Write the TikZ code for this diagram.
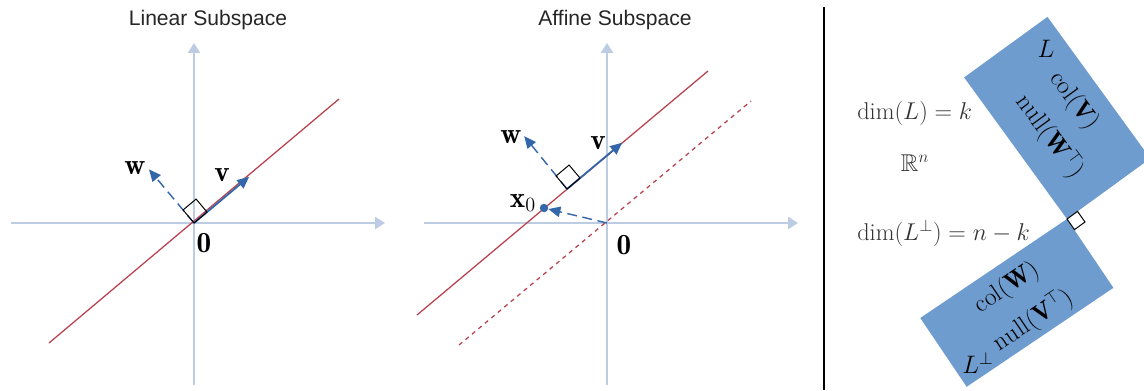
\RequirePackage{fix-cm}
\documentclass[tikz,border=0pt]{standalone}
\usepackage{amsmath,amssymb}
\usepackage{fontspec}
\newfontfamily\titlefont{Liberation Sans}
\usetikzlibrary{arrows.meta,calc}

\definecolor{axiscol}{RGB}{188,204,226}
\definecolor{linecol}{RGB}{184,66,78}
\definecolor{veccol}{RGB}{52,102,170}
\definecolor{boxcol}{RGB}{110,156,206}

\begin{document}
\begin{tikzpicture}[
    x=0.025cm, y=0.025cm,
    axis/.style={draw=axiscol, line width=1.4pt, -{Triangle[length=7pt,width=8.5pt]}},
    subsp/.style={draw=linecol, line width=0.9pt},
    shifted/.style={subsp, dash pattern=on 3pt off 3pt},
    vec/.style={draw=veccol, line width=1.3pt, -{Triangle[length=8.5pt,width=7.5pt]}},
    perpvec/.style={vec, line width=1pt, dash pattern=on 7pt off 4pt},
    rangle/.style={draw=black, line width=0.7pt},
    dot/.style={circle, fill=veccol, inner sep=0pt, minimum size=6pt},
    lbl/.style={font=\fontsize{17.28}{21}\selectfont, scale=1.2, inner sep=1pt},
    title/.style={font=\titlefont\fontsize{15}{18}\selectfont, text=black!85},
    dimlbl/.style={font=\fontsize{17.28}{21}\selectfont, text=black!80, inner sep=0pt},
    sep/.style={draw=black, line width=2.1pt},
    spacebox/.style={fill=boxcol, draw=none},
    boxlbl/.style={font=\fontsize{17.28}{21}\selectfont, scale=1.04, inner sep=0pt}
  ]
  \useasboundingbox (0,0) rectangle (1144,-390);

  % ---------- linear subspace ----------------------------------------------
  \node[title] (t1) at (208,-20) {Linear Subspace};
  \coordinate (o1) at (194,-223);
  \coordinate (h1a) at (11,-223);   \coordinate (h1b) at (385,-223);
  \coordinate (v1a) at (194,-385);  \coordinate (v1b) at (194,-43);
  \coordinate (l1a) at (49,-343);   \coordinate (l1b) at (339,-99);
  \coordinate (v1) at ($(o1)+(40:72)$);
  \coordinate (w1) at ($(o1)+(130:70)$);

  \draw[axis] (h1a) -- (h1b);
  \draw[axis] (v1a) -- (v1b);
  \draw[subsp] (l1a) -- (l1b);
  \draw[perpvec] (o1) -- (w1);
  \draw[vec] (o1) -- (v1);
  \draw[rangle] (o1) -- ++(40:17) -- ++(130:17) -- ++(220:17) -- cycle;

  \node[lbl] (w1l) at (135,-168) {$\mathbf{w}$};
  \node[lbl] (v1l) at (222,-175) {$\mathbf{v}$};
  \node[lbl] (z1l) at (204,-243) {$\mathbf{0}$};

  % ---------- affine subspace ----------------------------------------------
  \node[title] (t2) at (615,-20) {Affine Subspace};
  \coordinate (o2) at (607,-223);
  \coordinate (h2a) at (424,-223);  \coordinate (h2b) at (798,-223);
  \coordinate (v2a) at (607,-385);  \coordinate (v2b) at (607,-43);
  \coordinate (l2a) at (417,-315);  \coordinate (l2b) at (708,-71);
  \coordinate (d2a) at (459,-345);  \coordinate (d2b) at (751,-101);
  \coordinate (c2) at (567,-189);
  \coordinate (v2) at ($(c2)+(40:72)$);
  \coordinate (w2) at ($(c2)+(129:68)$);

  \draw[axis] (h2a) -- (h2b);
  \draw[axis] (v2a) -- (v2b);
  \draw[shifted] (d2a) -- (d2b);
  \draw[subsp] (l2a) -- (l2b);
  \node[dot] (x0) at (544,-208) {};
  \draw[perpvec] (o2) -- (x0);
  \draw[perpvec] (c2) -- (w2);
  \draw[vec] (c2) -- (v2);
  \draw[rangle] (c2) -- ++(40:17) -- ++(130:17) -- ++(220:17) -- cycle;

  \node[lbl] (w2l) at (511,-137) {$\mathbf{w}$};
  \node[lbl] (v2l) at (598,-143) {$\mathbf{v}$};
  \node[lbl] (x0l) at (523,-203) {$\mathbf{x}_0$};
  \node[lbl] (z2l) at (624,-245) {$\mathbf{0}$};

  % ---------- separator ----------------------------------------------------
  \coordinate (sa) at (824,-7);  \coordinate (sb) at (824,-390);
  \draw[sep] (sa) -- (sb);

  % ---------- L and its complement -----------------------------------------
  \node[dimlbl, anchor=west] (diml) at (857,-113) {$\dim(L) = k$};
  \node[dimlbl] (rn) at (915,-163) {$\mathbb{R}^n$};
  \node[dimlbl, anchor=west] (dimlp) at (857,-233) {$\dim(L^{\perp}) = n - k$};

  \coordinate (c3) at (1067,-219);
  \fill[spacebox] (c3) -- ++(126:175) -- ++(36:103) -- ++(306:175) -- cycle;
  \fill[spacebox] (c3) -- ++(214:177) -- ++(304:83) -- ++(34:177) -- cycle;
  \draw[rangle, fill=white] (c3) -- ++(36:13) -- ++(-55:13) -- ++(216:13) -- cycle;

  \node[boxlbl] (lsp) at (1046,-49) {$L$};
  \node[boxlbl, rotate=-54] (colv) at (1074,-101) {$\mathrm{col}(\mathbf{V})$};
  \node[boxlbl, rotate=-54] (nullw) at (1050,-136) {$\mathrm{null}(\mathbf{W}^{\top})$};
  \node[boxlbl, rotate=34] (colw) at (1007,-288) {$\mathrm{col}(\mathbf{W})$};
  \node[boxlbl, rotate=34] (nullv) at (1033,-320) {$\mathrm{null}(\mathbf{V}^{\top})$};
  \node[boxlbl] (lperp) at (978,-363) {$L^{\perp}$};

\end{tikzpicture}
\end{document}
